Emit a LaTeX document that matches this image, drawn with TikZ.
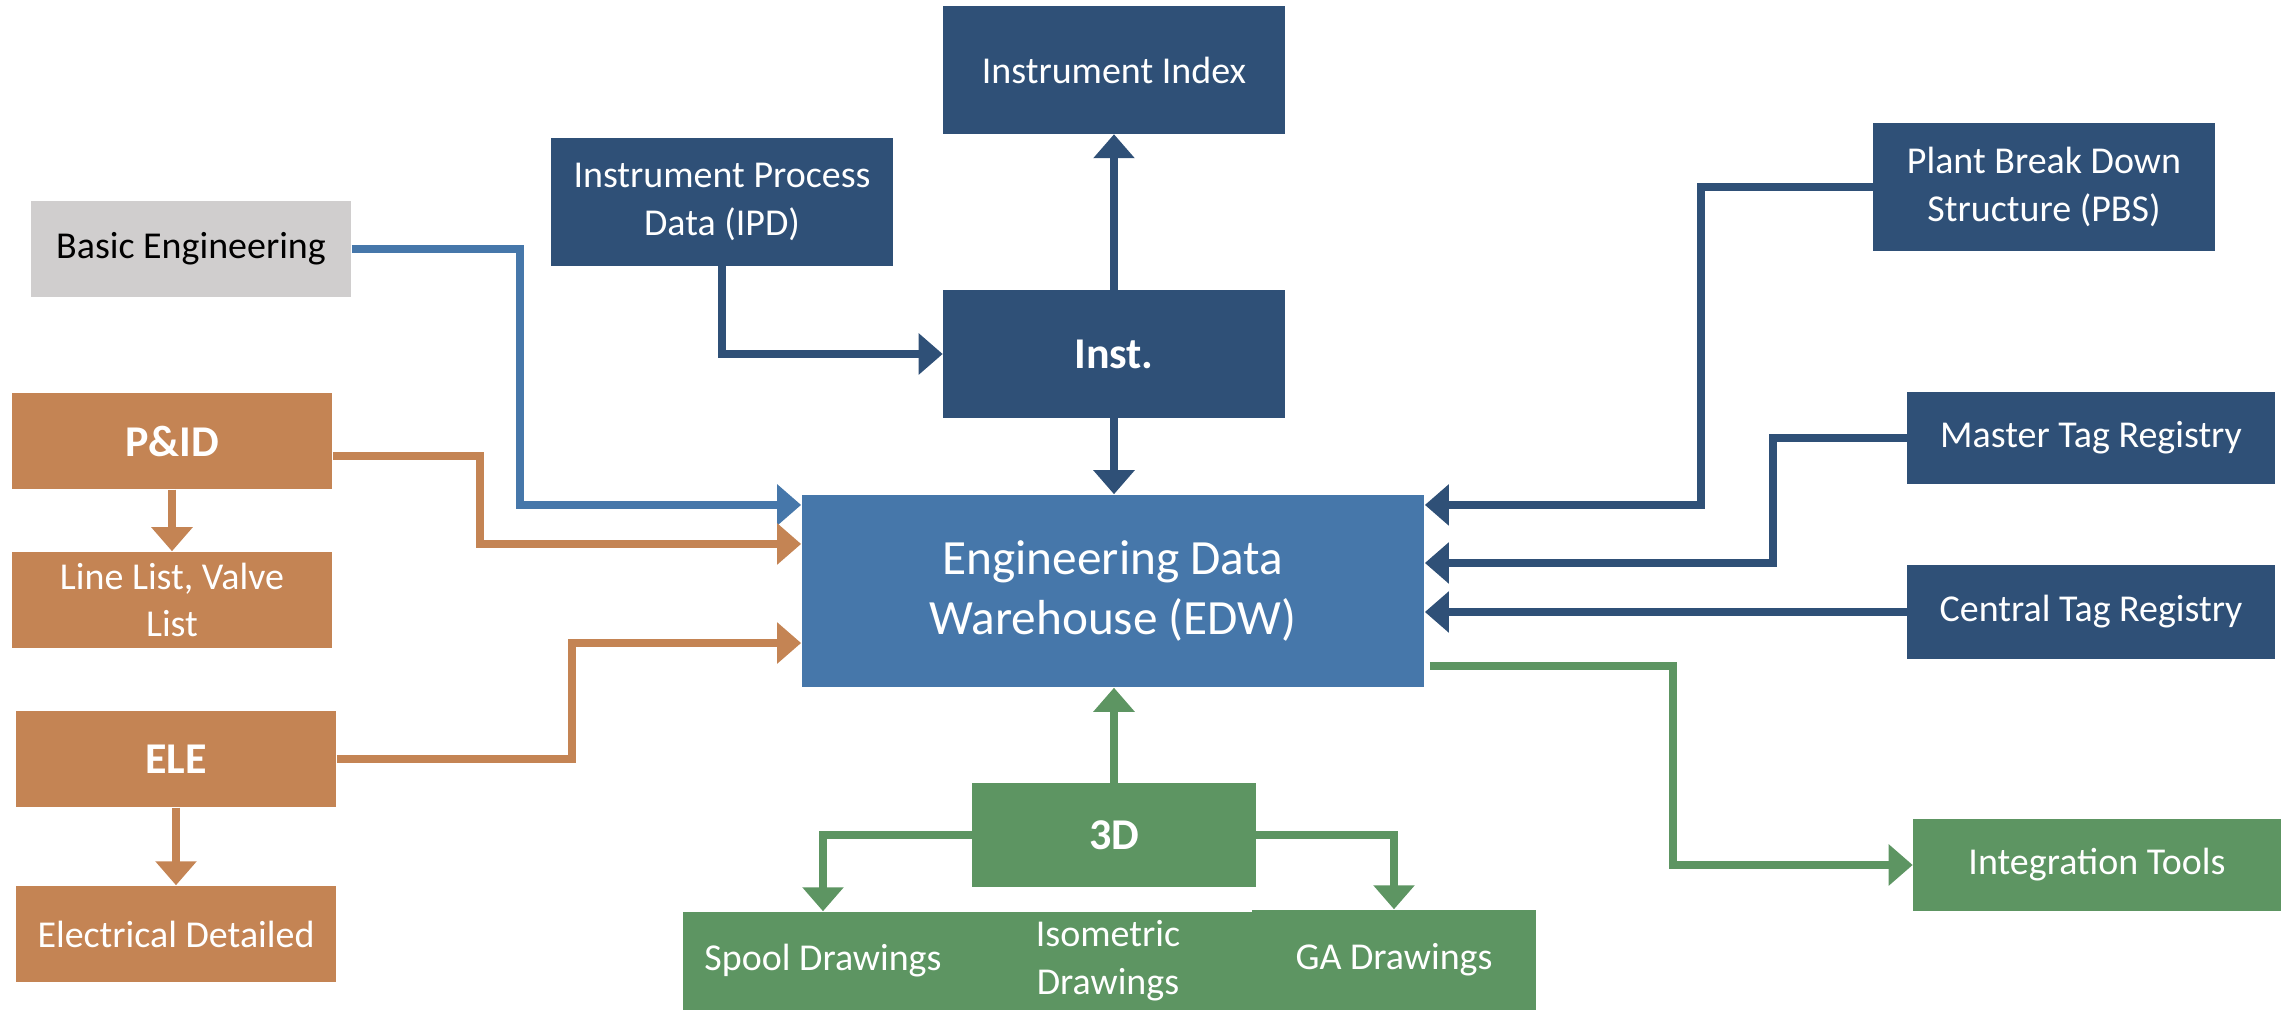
\documentclass[tikz,border=0pt]{standalone}
\usepackage{fontspec}
\setmainfont{Carlito}
\usepackage{xcolor}
\usepackage{tikz}
\usetikzlibrary{arrows.meta}

\definecolor{navy}{RGB}{47,80,119}
\definecolor{midblue}{RGB}{70,119,170}
\definecolor{copper}{RGB}{196,132,84}
\definecolor{leaf}{RGB}{93,149,98}
\definecolor{ash}{RGB}{208,206,206}

\begin{document}
\begin{tikzpicture}[x=0.01cm,y=-0.01cm,
    box/.style={rectangle,inner sep=2pt,align=center,text=white,
        font=\fontsize{10.8}{13.6}\selectfont},
    bold/.style={font=\fontsize{12.5}{15}\selectfont\bfseries},
    link/.style={line width=0.08cm,-{Triangle[width=0.4cm,length=0.24cm]}}]
    \useasboundingbox (0,0) rectangle (2290,1010);
    % left column
    \node [box,fill=ash,text=black,minimum width=3.2cm,minimum height=0.96cm] (BE) at (191,249) {Basic Engineering};
    \node [box,bold,fill=copper,minimum width=3.2cm,minimum height=0.96cm] (PID) at (172,441) {P\&ID};
    \node [box,fill=copper,minimum width=3.2cm,minimum height=0.96cm] (LL) at (172,600) {Line List, Valve\\List};
    \node [box,bold,fill=copper,minimum width=3.2cm,minimum height=0.96cm] (ELE) at (176,759) {ELE};
    \node [box,fill=copper,minimum width=3.2cm,minimum height=0.96cm] (ED) at (176,934) {Electrical Detailed};
    % instrument branch
    \node [box,fill=navy,minimum width=3.41cm,minimum height=1.27cm] (II) at (1114,70) {Instrument Index};
    \node [box,fill=navy,minimum width=3.41cm,minimum height=1.27cm] (IPD) at (722,202) {Instrument Process\\Data (IPD)};
    \node [box,bold,fill=navy,minimum width=3.41cm,minimum height=1.27cm] (Inst) at (1114,354) {Inst.};
    % warehouse
    \node [box,fill=midblue,minimum width=6.22cm,minimum height=1.92cm,font=\fontsize{14}{17}\selectfont] (EDW) at (1113,591) {Engineering Data\\Warehouse (EDW)};
    % right column
    \node [box,fill=navy,minimum width=3.41cm,minimum height=1.27cm] (PBS) at (2044,187) {Plant Break Down\\Structure (PBS)};
    \node [box,fill=navy,minimum width=3.67cm,minimum height=0.92cm] (MTR) at (2091,438) {Master Tag Registry};
    \node [box,fill=navy,minimum width=3.67cm,minimum height=0.93cm] (CTR) at (2091,612) {Central Tag Registry};
    \node [box,fill=leaf,minimum width=3.67cm,minimum height=0.92cm] (IT) at (2097,865) {Integration Tools};
    % 3D branch
    \node [box,bold,fill=leaf,minimum width=2.83cm,minimum height=1.03cm] (TD) at (1114,835) {3D};
    \node [box,fill=leaf,minimum width=2.8cm,minimum height=0.98cm] (SD) at (823,961) {Spool Drawings};
    \node [box,fill=leaf,minimum width=2.9cm,minimum height=0.98cm] (ISO) at (1108,961) {Isometric\\Drawings};
    \node [box,fill=leaf,minimum width=2.83cm,minimum height=1cm] (GA) at (1394,960) {GA Drawings};
    % connectors
    \draw [link,midblue] (BE.east) -- ++(168,0) |- ([yshift=.86cm]EDW.west);
    \draw [link,copper] ([yshift=-.15cm]PID.east) -- ++(147,0) |- ([yshift=.47cm]EDW.west);
    \draw [link,copper] (ELE.east) -- ++(235,0) |- ([yshift=-.52cm]EDW.west);
    \draw [link,copper] (PID.south) -- (LL.north);
    \draw [link,copper] (ELE.south) -- (ED.north);
    \draw [link,navy] (IPD.south) |- (Inst.west);
    \draw [link,navy] (Inst.north) -- (II.south);
    \draw [link,navy] (Inst.south) -- (Inst.south |- EDW.north);
    \draw [link,navy] (PBS.west) -- ++(-172,0) |- ([yshift=.86cm]EDW.east);
    \draw [link,navy] (MTR.west) -- ++(-134,0) |- ([yshift=.28cm]EDW.east);
    \draw [link,navy] (CTR.west) -- (CTR.west -| EDW.east);
    \draw [link,leaf] ([xshift=.05cm,yshift=-.75cm]EDW.east) -- ++(243,0) |- (IT.west);
    \draw [link,leaf] (TD.north) -- (TD.north |- EDW.south);
    \draw [link,leaf] (TD.west) -| (SD.north);
    \draw [link,leaf] (TD.east) -| (GA.north);
\end{tikzpicture}
\end{document}
